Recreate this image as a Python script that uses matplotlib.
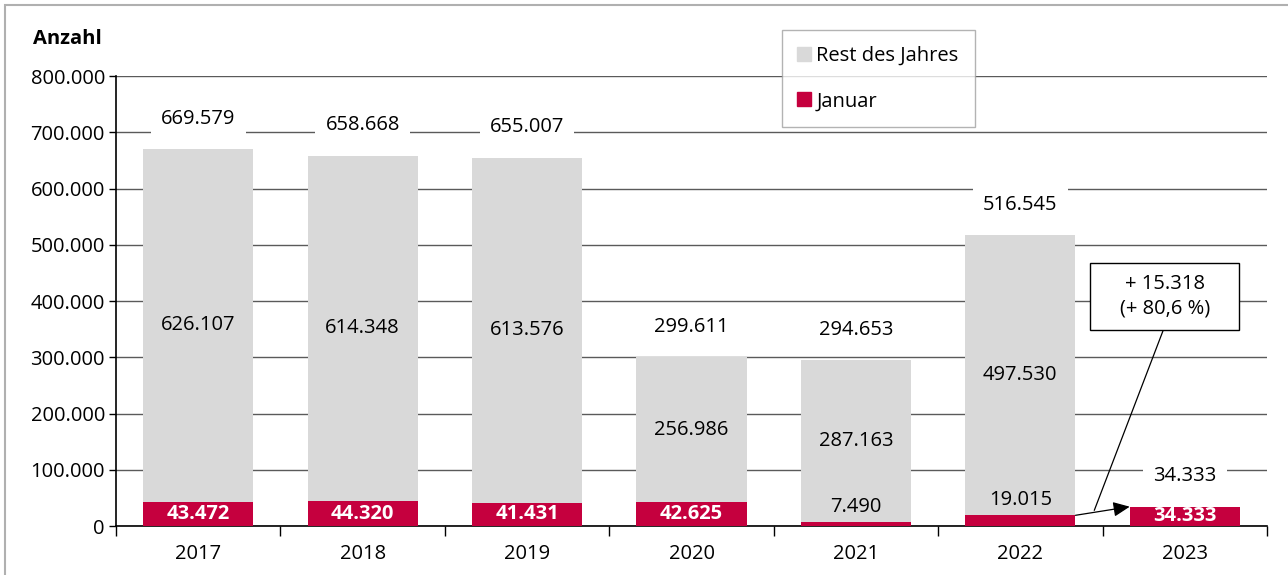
import matplotlib.pyplot as plt
import numpy as np
from matplotlib.lines import Line2D
from matplotlib.patches import Rectangle

plt.rcParams["font.family"] = ["Open Sans", "DejaVu Sans"]

years = ["2017", "2018", "2019", "2020", "2021", "2022", "2023"]
januar = [43472, 44320, 41431, 42625, 7490, 19015, 34333]
rest = [626107, 614348, 613576, 256986, 287163, 497530, 0]
totals = [669579, 658668, 655007, 299611, 294653, 516545, 34333]
diff_text = "+ 15.318\n(+ 80,6 %)"

RED = "#C5003E"
GRAY = "#D9D9D9"
GRID = "#5A5A5A"
FS = 14.5


def fmt(v):
    return f"{v:,}".replace(",", ".")


fig = plt.figure(figsize=(12.88, 5.75), dpi=100)
ax = fig.add_axes([0.0901, 0.0852, 0.8936, 0.7826])

x = np.arange(len(years))
width = 0.67
ax.bar(x, januar, width, color=RED, zorder=3, label="Januar")
ax.bar(x, rest, width, bottom=januar, color=GRAY, zorder=3, label="Rest des Jahres")

ax.set_xlim(-0.5, len(years) - 0.5)
ax.set_ylim(0, 800000)
ax.set_yticks(np.arange(0, 800001, 100000))
ax.set_yticklabels([fmt(v) for v in range(0, 800001, 100000)], fontsize=FS)
ax.yaxis.grid(True, color=GRID, linewidth=1.0, zorder=0)
ax.set_axisbelow(True)

ax.set_xticks(x)
ax.set_xticklabels(years, fontsize=FS)
ax.tick_params(axis="x", length=0, pad=13)
ax.tick_params(axis="y", length=5, width=1, direction="out", pad=3)
# boundary ticks between categories
ax.set_xticks(np.arange(-0.5, len(years)), minor=True)
ax.tick_params(axis="x", which="minor", length=7, width=1, direction="out")

for s in ["top", "right"]:
    ax.spines[s].set_visible(False)
for s in ["left", "bottom"]:
    ax.spines[s].set_color("black")
    ax.spines[s].set_linewidth(1.2)

# total labels above bars
for i, t in enumerate(totals):
    ax.annotate(fmt(t), (x[i], t), xytext=(0, 22), textcoords="offset points",
                ha="center", va="center", fontsize=FS, zorder=5,
                bbox=dict(boxstyle="square,pad=0.5", fc="white", ec="none"))

# rest labels in middle of gray segment
for i, (j, r) in enumerate(zip(januar, rest)):
    if r > 0:
        ax.text(x[i], j + r / 2, fmt(r), ha="center", va="center", fontsize=FS, zorder=5)

# januar labels
for i, j in enumerate(januar):
    if j > 30000:
        ax.text(x[i], j / 2, fmt(j), ha="center", va="center", fontsize=FS,
                color="white", fontweight="bold", zorder=5)
    else:
        ax.annotate(fmt(j), (x[i], j), xytext=(0, 11), textcoords="offset points",
                    ha="center", va="center", fontsize=FS, zorder=5)

# arrow from 2022 januar to 2023 januar
x0, y0 = x[5] + width / 2, januar[5]
x1, y1 = x[6] - width / 2, januar[6]
ax.annotate("", xy=(x1, y1), xytext=(x0, y0),
            arrowprops=dict(arrowstyle="-|>,head_length=1.0,head_width=0.45",
                            color="black", lw=0.9, shrinkA=0, shrinkB=0), zorder=6)

# annotation box with difference
bx0, bx1, by0, by1 = 5.425, 6.331, 349000, 468000
ax.add_patch(Rectangle((bx0, by0), bx1 - bx0, by1 - by0, fc="white", ec="black",
                       lw=1.0, zorder=7))
ax.text((bx0 + bx1) / 2, (by0 + by1) / 2, diff_text, ha="center", va="center",
        fontsize=FS, linespacing=1.25, zorder=8)
mx, my = (x0 + x1) / 2 - 0.05, (y0 + y1) / 2 + 1500
ax.plot([mx, 5.87], [my, by0], color="black", lw=0.9, zorder=6)

# axis title
fig.text(0.026, 0.932, "Anzahl", fontsize=FS, fontweight="bold", ha="left", va="center")

# legend
handles = [
    Line2D([], [], marker="s", color=GRAY, linestyle="none", markersize=10),
    Line2D([], [], marker="s", color=RED, linestyle="none", markersize=10),
]
leg = fig.legend(handles, ["Rest des Jahres", "Januar"], loc="upper left",
                 bbox_to_anchor=(782 / 1288, 1 - 30 / 575), fontsize=FS,
                 frameon=True, fancybox=False, edgecolor="#A0A0A0",
                 handlelength=0.6, handletextpad=0.3, labelspacing=1.25,
                 borderpad=0.8, borderaxespad=0)
leg.get_frame().set_linewidth(1.0)

# outer frame (top and left visible)
fig.patches.append(Rectangle((5 / 1288, -0.1), 1.2, 1 - 5 / 575 + 0.1,
                             transform=fig.transFigure, fill=False,
                             ec="#B0B0B0", lw=1.5, zorder=0))

fig.savefig("out.png", dpi=100)
